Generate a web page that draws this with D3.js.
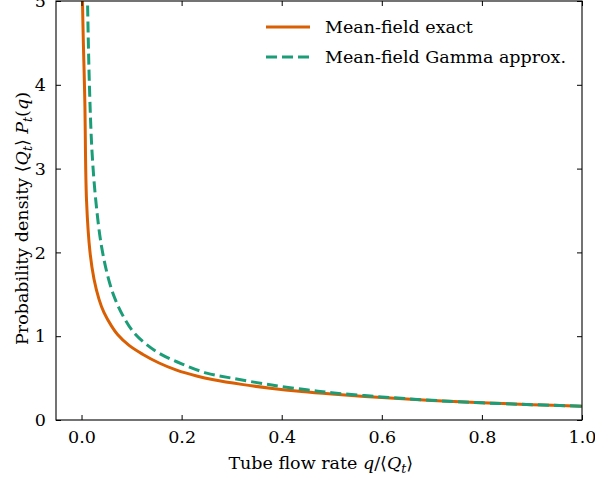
<!DOCTYPE html>
<html>
<head>
  <meta charset="utf-8">
  <script src="https://d3js.org/d3.v7.min.js"></script>
  <style>
    body { margin: 0; background: #fff; }
    text { font-family: "DejaVu Serif", "Liberation Serif", serif; }
  </style>
</head>
<body>
<script>
// values
var exactQ = [0.0015, 0.002, 0.0066, 0.010, 0.017, 0.025, 0.035, 0.045, 0.06, 0.072, 0.095, 0.122, 0.155, 0.19, 0.23, 0.264, 0.32, 0.377, 0.44, 0.5, 0.6, 0.7, 0.8, 0.9, 1.0];
var exactP = [6.2, 5.0, 3.8, 2.62, 2.0, 1.68, 1.44, 1.28, 1.12, 1.02, 0.89, 0.785, 0.68, 0.595, 0.525, 0.48, 0.425, 0.38, 0.34, 0.31, 0.268, 0.233, 0.205, 0.183, 0.165];
var gammaQ = [0.010, 0.012, 0.016, 0.021, 0.0285, 0.04, 0.055, 0.068, 0.085, 0.105, 0.13, 0.16, 0.2, 0.25, 0.3, 0.377, 0.45, 0.5, 0.6, 0.7, 0.8, 0.9, 1.0];
var gammaP = [5.9, 5.0, 3.95, 3.2, 2.62, 2.07, 1.66, 1.43, 1.22, 1.04, 0.90, 0.78, 0.67, 0.56, 0.50, 0.42, 0.36, 0.325, 0.275, 0.235, 0.205, 0.183, 0.165];
var xTicks = [0, 0.2, 0.4, 0.6, 0.8, 1.0];
var yTicks = [0, 1, 2, 3, 4, 5];
var seriesNames = ["Mean-field exact", "Mean-field Gamma approx."];

var W = 595, H = 481;
var m = {left: 56, right: 13, top: 1, bottom: 61};
var iw = W - m.left - m.right, ih = H - m.top - m.bottom;

var svg = d3.select("body").append("svg")
  .attr("width", W).attr("height", H);

var x = d3.scaleLinear().domain([-0.051, 1.0]).range([0, iw]);
var y = d3.scaleLinear().domain([0, 5]).range([ih, 0]);

var g = svg.append("g").attr("transform", "translate(" + m.left + "," + m.top + ")");

g.append("clipPath").attr("id", "clip")
  .append("rect").attr("width", iw).attr("height", ih);

var line = d3.line()
  .x(function(d) { return x(d[0]); })
  .y(function(d) { return y(d[1]); })
  .curve(d3.curveCatmullRom.alpha(0.5));

var exact = exactQ.map(function(q, i) { return [q, exactP[i]]; });
var gamma = gammaQ.map(function(q, i) { return [q, gammaP[i]]; });

var orange = "#d95f02", green = "#1b9e77";

g.append("path").datum(exact)
  .attr("clip-path", "url(#clip)")
  .attr("d", line)
  .attr("fill", "none").attr("stroke", orange).attr("stroke-width", 3);

g.append("path").datum(gamma)
  .attr("clip-path", "url(#clip)")
  .attr("d", line)
  .attr("fill", "none").attr("stroke", green).attr("stroke-width", 3)
  .attr("stroke-dasharray", "11,5");

// axes, ticks inward on all sides
var fmt = d3.format(".1f");
var fs = 17.5;
function styleAxis(sel) {
  sel.select(".domain").remove();
  sel.selectAll(".tick line").attr("stroke", "#000");
  sel.selectAll("text").attr("font-size", fs).attr("fill", "#000")
    .attr("font-family", "DejaVu Serif, Liberation Serif, serif");
}
g.append("g").attr("transform", "translate(0," + ih + ")")
  .call(d3.axisBottom(x).tickValues(xTicks).tickFormat(fmt).tickSizeInner(-5).tickPadding(11))
  .call(styleAxis);
g.append("g")
  .call(d3.axisTop(x).tickValues(xTicks).tickFormat("").tickSizeInner(-5))
  .call(styleAxis);
g.append("g")
  .call(d3.axisLeft(y).tickValues(yTicks).tickFormat(d3.format("d")).tickSizeInner(-5).tickPadding(10))
  .call(styleAxis);
g.append("g").attr("transform", "translate(" + iw + ",0)")
  .call(d3.axisRight(y).tickValues(yTicks).tickFormat("").tickSizeInner(-5))
  .call(styleAxis);

g.append("rect").attr("width", iw).attr("height", ih)
  .attr("fill", "none").attr("stroke", "#000").attr("stroke-width", 1.1);

// legend
var leg = svg.append("g").attr("transform", "translate(266,27)");
[orange, green].forEach(function(c, i) {
  leg.append("line").attr("x1", 0).attr("x2", 44).attr("y1", i * 30).attr("y2", i * 30)
    .attr("stroke", c).attr("stroke-width", 3)
    .attr("stroke-dasharray", i ? "11,5" : null);
  leg.append("text").attr("x", 59).attr("y", i * 30 + 6)
    .attr("font-size", fs).text(seriesNames[i]);
});

// axis labels
var xl = svg.append("text").attr("x", m.left + x(0.478)).attr("y", 469)
  .attr("text-anchor", "middle").attr("font-size", fs);
xl.append("tspan").text("Tube flow rate ");
xl.append("tspan").attr("font-style", "italic").text("q");
xl.append("tspan").text("/\u27E8");
xl.append("tspan").attr("font-style", "italic").text("Q");
xl.append("tspan").attr("font-style", "italic").attr("font-size", 12.5).attr("dy", 4).text("t");
xl.append("tspan").attr("dy", -4).text("\u27E9");

var yl = svg.append("text")
  .attr("transform", "translate(28," + (m.top + ih / 2 + 8) + ") rotate(-90)")
  .attr("text-anchor", "middle").attr("font-size", fs);
yl.append("tspan").text("Probability density \u27E8");
yl.append("tspan").attr("font-style", "italic").text("Q");
yl.append("tspan").attr("font-style", "italic").attr("font-size", 12.5).attr("dy", 4).text("t");
yl.append("tspan").attr("dy", -4).text("\u27E9 ");
yl.append("tspan").attr("font-style", "italic").text("P");
yl.append("tspan").attr("font-style", "italic").attr("font-size", 12.5).attr("dy", 4).text("t");
yl.append("tspan").attr("dy", -4).text("(");
yl.append("tspan").attr("font-style", "italic").text("q");
yl.append("tspan").text(")");
</script>
</body>
</html>
